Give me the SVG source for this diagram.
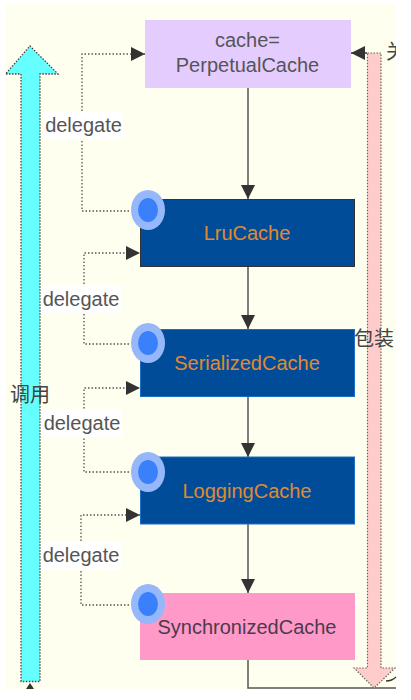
<svg xmlns="http://www.w3.org/2000/svg" width="411" height="700" viewBox="0 0 411 700">
<defs>
<marker id="tri" markerUnits="userSpaceOnUse" markerWidth="16" markerHeight="16" refX="15" refY="8" orient="auto"><path d="M1 1 L15 8 L1 15 Z" fill="#333"/></marker>
<clipPath id="page"><rect x="5" y="4" width="391" height="685"/></clipPath>
</defs>
<style>
text{font-family:"Liberation Sans","Noto Sans CJK SC",sans-serif;font-size:20px;text-anchor:middle}
.lab{fill:#555}
.cn{fill:#444;font-size:20px}
.o{fill:#e08a2e}
.d{fill:none;stroke:#555;stroke-width:1.3;stroke-dasharray:1.5 2}
.s{fill:none;stroke:#555;stroke-width:1.5}
.halo{fill:#96b8fb}
.dot{fill:#3b80fb}
</style>
<rect width="411" height="700" fill="#fff"/>
<rect x="5" y="4" width="391" height="685" fill="#fffff0"/>
<g id="connectors">
<path class="d" d="M129 211 H82 V54 H145" marker-end="url(#tri)"/>
<path class="d" d="M129 344 H84 V253 H140" marker-end="url(#tri)"/>
<path class="d" d="M129 472 H84 V388 H140" marker-end="url(#tri)"/>
<path class="d" d="M129 605 H81 V515 H140" marker-end="url(#tri)"/>
<path class="s" d="M248 88 V199" marker-end="url(#tri)"/>
<path class="s" d="M248 266 V329" marker-end="url(#tri)"/>
<path class="s" d="M248 396 V457" marker-end="url(#tri)"/>
<path class="s" d="M248 524 V593" marker-end="url(#tri)"/>
<path class="s" d="M248 660 V688 H396"/>
<path d="M367 53 H351" stroke="#333" stroke-width="1.5" marker-end="url(#tri)"/>
<path d="M26 689 L30 683 L34 689 Z" fill="#333"/>
</g>
<g id="call-arrow">
<path d="M21 681.500 V74 H5.500 L30 46 L58 74 H40 V681.500 Z" fill="#66ffff" stroke="#444" stroke-width="1.3" stroke-dasharray="1.5 1.5"/>
<text class="cn" x="30" y="402">调用</text>
</g>
<g id="wrap-arrow">
<path d="M367.500 53 H381 V668 H395 L374 688 L354 668 H367.500 Z" fill="#ffcccc" stroke="#665" stroke-width="1.2" stroke-dasharray="1.5 1.5" clip-path="url(#page)"/>
<text class="cn" x="374" y="346">包装</text>
<path d="M386 681 Q392 681 396 677" fill="none" stroke="#333" stroke-width="1.3"/>
<text class="cn" x="396" y="59" clip-path="url(#page)">关</text>
</g>
<g id="edge-labels">
<rect x="44" y="111" width="79" height="28" fill="#fff"/><text class="lab" x="83.500" y="132">delegate</text>
<rect x="41" y="285" width="80" height="28" fill="#fff"/><text class="lab" x="81" y="306">delegate</text>
<rect x="42" y="409" width="80" height="28" fill="#fff"/><text class="lab" x="82" y="430">delegate</text>
<rect x="41" y="542" width="80" height="28" fill="#fff"/><text class="lab" x="81" y="562">delegate</text>
</g>
<g id="perpetual"><rect x="145" y="20" width="206" height="68" fill="#e5ccff"/><text class="lab" x="247.500" y="47">cache=</text><text class="lab" x="247.500" y="72">PerpetualCache</text></g>
<g id="lru"><rect x="140.500" y="199.500" width="214" height="67" fill="#004c99" stroke="#333"/><text class="o" x="247" y="240">LruCache</text></g>
<g id="serialized"><rect x="140.500" y="329.500" width="214" height="67" fill="#004c99" stroke="#1a6fc4"/><text class="o" x="247" y="370">SerializedCache</text></g>
<g id="logging"><rect x="140.500" y="457" width="214" height="67" fill="#004c99" stroke="#1a6fc4"/><text class="o" x="247" y="498">LoggingCache</text></g>
<g id="synchronized"><rect x="140" y="593" width="215" height="67" fill="#ff99c8"/><text class="lab" x="247" y="634" style="fill:#4d3a4d">SynchronizedCache</text></g>
<g id="badges">
<ellipse class="halo" cx="148" cy="210" rx="17" ry="20"/><ellipse class="dot" cx="148" cy="210" rx="10" ry="12"/>
<ellipse class="halo" cx="148" cy="343" rx="17" ry="20"/><ellipse class="dot" cx="148" cy="343" rx="10" ry="12"/>
<ellipse class="halo" cx="148" cy="472" rx="17" ry="20"/><ellipse class="dot" cx="148" cy="472" rx="10" ry="12"/>
<ellipse class="halo" cx="148" cy="604" rx="17" ry="20"/><ellipse class="dot" cx="148" cy="604" rx="10" ry="12"/>
</g>
</svg>
